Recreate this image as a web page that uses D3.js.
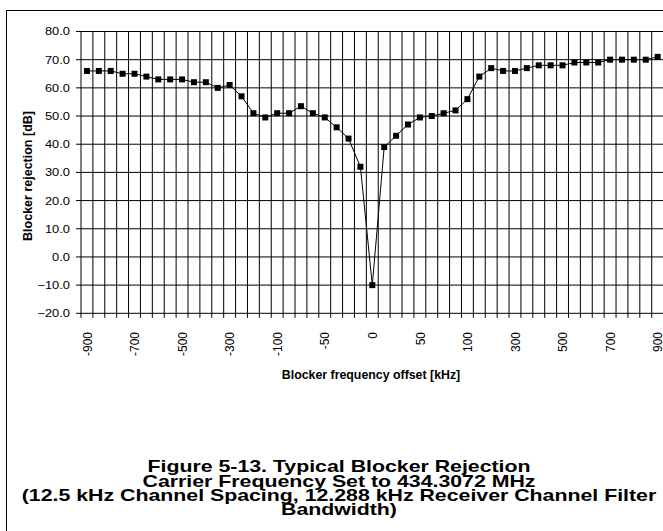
<!DOCTYPE html>
<html>
<head>
<meta charset="utf-8">
<script src="https://cdn.jsdelivr.net/npm/d3@7"></script>
<style>
  html, body { margin: 0; padding: 0; background: #fff; }
  svg { display: block; }
  text { font-family: "Liberation Sans", Arial, sans-serif; fill: #000; }
</style>
</head>
<body>
<svg id="chart" width="663" height="531"></svg>
<script>
// Blocker frequency offset categories [kHz]
const categories = [-900,-850,-800,-750,-700,-650,-600,-550,-500,-450,-400,-350,-300,-250,-200,-150,-100,
  -87.5,-75,-62.5,-50,-37.5,-25,-12.5,0,12.5,25,37.5,50,62.5,75,87.5,
  100,150,200,250,300,350,400,450,500,550,600,650,700,750,800,850,900];
// Blocker rejection [dB]
const rejection = [66,66,66,65,65,64,63,63,63,62,62,60,61,57,51,49.5,51,
  51,53.5,51,49.5,46,42,32,-10,39,43,47,49.5,50,51,52,
  56,64,67,66,66,67,68,68,68,69,69,69,70,70,70,70,71];
// Labelled x ticks
const xTickLabels = ["-900","-700","-500","-300","-100","-50","0","50","100","300","500","700","900"];
// y ticks
const yTicks = [-20,-10,0,10,20,30,40,50,60,70,80];
const yTitle = "Blocker rejection [dB]";
const xTitle = "Blocker frequency offset [kHz]";
const caption = ["Figure 5-13. Typical Blocker Rejection",
  "Carrier Frequency Set to 434.3072 MHz",
  "(12.5 kHz Channel Spacing, 12.288 kHz Receiver Channel Filter",
  "Bandwidth)"];

const svg = d3.select("#chart");
const L = 81, R = 663.6, T = 31.5, B = 313.3;

// outer border
svg.append("rect").attr("x", 6.5).attr("y", 10.5).attr("width", 700).attr("height", 600)
  .attr("fill", "none").attr("stroke", "#000").attr("stroke-width", 1);

const x = d3.scaleBand().domain(categories.map(String)).range([L, R]).padding(0);
const y = d3.scaleLinear().domain([-20, 80]).range([B, T]);
const cx = c => x(String(c)) + x.bandwidth() / 2;

const g = svg.append("g");

// horizontal gridlines
g.selectAll("line.hg").data(yTicks).join("line")
  .attr("x1", L).attr("x2", R).attr("y1", d => y(d)).attr("y2", d => y(d))
  .attr("stroke", "#000").attr("stroke-width", 1);

// vertical gridlines at category boundaries (extend below axis as tick marks)
const bounds = categories.map(c => x(String(c))).concat([R]);
g.selectAll("line.vg").data(bounds).join("line")
  .attr("x1", d => d).attr("x2", d => d).attr("y1", T).attr("y2", B + 4.5)
  .attr("stroke", "#000").attr("stroke-width", 1);

// y axis ticks
g.selectAll("line.yt").data(yTicks).join("line")
  .attr("x1", L - 5).attr("x2", L).attr("y1", d => y(d)).attr("y2", d => y(d))
  .attr("stroke", "#000").attr("stroke-width", 1);

// y tick labels
g.selectAll("text.yl").data(yTicks).join("text")
  .attr("transform", d => `translate(70,${y(d)}) scale(1.17,1)`)
  .attr("text-anchor", "end").attr("dy", "0.36em")
  .style("font-size", "11px")
  .text(d => d3.format(".1f")(d));

// x tick labels (rotated)
const labelled = categories.filter(c => xTickLabels.includes(String(c)));
g.selectAll("text.xl").data(labelled).join("text")
  .attr("transform", d => `translate(${cx(d)},332) scale(1.1,1) rotate(-90)`)
  .attr("text-anchor", "end").attr("dy", "0.36em")
  .style("font-size", "12px")
  .text(d => String(d));

// line
const line = d3.line().x((d, i) => cx(categories[i])).y(d => y(d));
g.append("path").datum(rejection).attr("d", line)
  .attr("fill", "none").attr("stroke", "#000").attr("stroke-width", 1);

// markers
const ms = 6;
g.selectAll("rect.m").data(rejection).join("rect")
  .attr("x", (d, i) => cx(categories[i]) - ms / 2)
  .attr("y", d => y(d) - ms / 2)
  .attr("width", ms).attr("height", ms).attr("fill", "#000");

// axis titles
svg.append("text")
  .attr("transform", `translate(32,176) rotate(-90)`)
  .attr("text-anchor", "middle")
  .style("font-size", "12.5px").style("font-weight", "bold")
  .text(yTitle);

svg.append("text")
  .attr("transform", `translate(371,378.5) scale(1.03,1)`)
  .attr("text-anchor", "middle")
  .style("font-size", "12px").style("font-weight", "bold")
  .text(xTitle);

// caption
const baselines = [472, 486.5, 501, 515];
svg.selectAll("text.cap").data(caption).join("text")
  .attr("transform", (d, i) => `translate(339,${baselines[i]}) scale(1.3,1)`)
  .attr("text-anchor", "middle")
  .style("font-size", "16.4px").style("font-weight", "bold")
  .text(d => d);
</script>
</body>
</html>
